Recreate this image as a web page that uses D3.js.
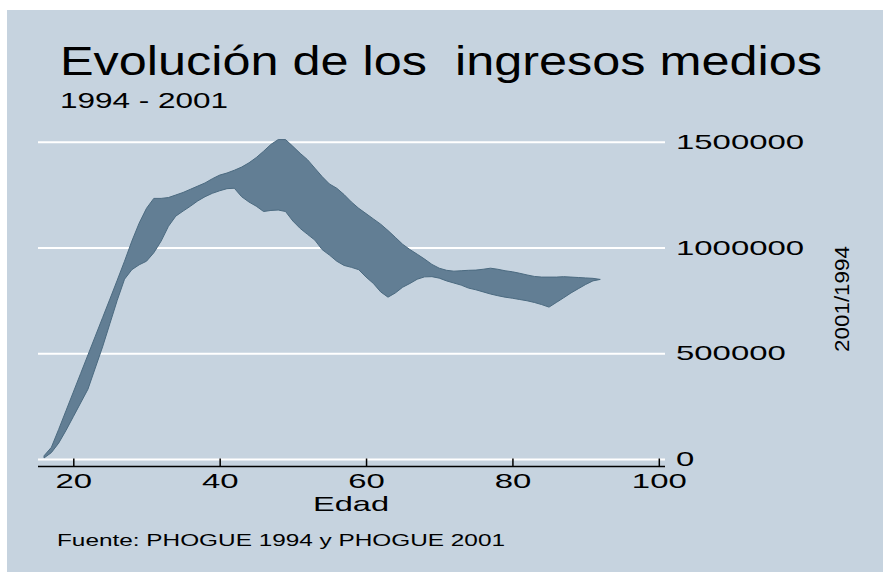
<!DOCTYPE html>
<html>
<head>
<meta charset="utf-8">
<script src="https://cdn.jsdelivr.net/npm/d3@7"></script>
<style>
  body { margin: 0; background: #fff; }
  text { font-family: "Liberation Sans", Arial, sans-serif; fill: #000; }
</style>
</head>
<body>
<div id="chart"></div>
<script>
// edad (age) and the two mean-income curves that bound the band
const ages = [16,17,18,19,20,21,22,23,24,25,26,27,28,29,30,31,32,33,34,35,36,37,38,39,40,
  41,42,43,44,45,46,47,48,49,50,51,52,53,54,55,56,57,58,59,60,61,62,63,64,65,66,67,68,69,70,
  71,72,73,74,75,76,77,78,79,80,81,82,83,84,85,86,87,88,89,90,91,92];
const upper = [15,55,140,228,316,404,492,580,668,756,845,935,1030,1115,1185,1232,1232,1236,1248,1260,1275,
  1290,1305,1325,1342,1352,1365,1380,1400,1425,1455,1487,1510,1510,1478,1445,1415,1375,1335,1300,1280,
  1250,1215,1185,1160,1135,1110,1080,1048,1015,990,968,945,920,902,892,888,890,892,893,897,
  902,897,890,885,878,870,863,860,860,860,862,860,858,856,854,849].map(v => v * 1000);
const lower = [5,30,75,135,200,265,330,430,530,640,750,850,895,918,935,975,1030,1100,1148,1172,1195,
  1220,1240,1256,1268,1278,1280,1240,1215,1195,1170,1175,1177,1170,1125,1090,1062,1035,990,964,935,
  915,906,895,860,830,790,765,785,812,830,850,861,862,855,842,832,822,808,800,790,
  780,772,765,760,754,748,740,730,718,740,762,785,805,825,842,849].map(v => v * 1000);
const xTicks = [20, 40, 60, 80, 100];
const yTicks = [0, 500000, 1000000, 1500000];

const w = 883, h = 574;
const svg = d3.select('#chart').append('svg')
  .attr('width', w).attr('height', h);

svg.append('rect')
  .attr('x', 7).attr('y', 10).attr('width', 876).attr('height', 562)
  .attr('fill', '#c6d3df');

const x = d3.scaleLinear().domain([20, 100]).range([73.3, 658.8]);
const y = d3.scaleLinear().domain([0, 1500000]).range([459, 141.7]);

// gridlines + right labels
const yAxis = svg.append('g')
  .attr('transform', 'translate(665,0)')
  .call(d3.axisRight(y).tickValues(yTicks).tickSizeInner(-627).tickSizeOuter(0).tickPadding(11)
    .tickFormat(d3.format('d')));
yAxis.select('.domain').remove();
yAxis.selectAll('line').attr('stroke', '#fff').attr('stroke-width', 2);
yAxis.selectAll('text')
  .attr('font-size', 21)
  .attr('textLength', d => String(d).length * 18.3)
  .attr('lengthAdjust', 'spacingAndGlyphs');

const data = ages.map((a, i) => ({a, lo: lower[i], hi: upper[i]}));
svg.append('path')
  .datum(data)
  .attr('fill', '#627e94')
  .attr('stroke', '#4b6a80')
  .attr('stroke-width', 1)
  .attr('d', d3.area().x(d => x(d.a)).y0(d => y(d.lo)).y1(d => y(d.hi)));

// x axis
const xAxis = svg.append('g')
  .attr('transform', 'translate(0,466.5)')
  .call(d3.axisBottom(x).tickValues(xTicks).tickSizeInner(-8).tickSizeOuter(0).tickPadding(7));
xAxis.select('.domain').remove();
xAxis.append('line').attr('x1', 38).attr('x2', 665).attr('stroke', '#000').attr('stroke-width', 1.5);
xAxis.selectAll('.tick line').attr('stroke', '#000').attr('stroke-width', 1.5);
xAxis.selectAll('text')
  .attr('font-size', 21)
  .attr('textLength', d => String(d).length * 18.3)
  .attr('lengthAdjust', 'spacingAndGlyphs');

svg.append('text')
  .attr('x', 60).attr('y', 75)
  .attr('font-size', 40)
  .attr('textLength', 762).attr('lengthAdjust', 'spacingAndGlyphs')
  .style('white-space', 'pre')
  .text('Evolución de los  ingresos medios');

svg.append('text')
  .attr('x', 60).attr('y', 108)
  .attr('font-size', 22)
  .attr('textLength', 168).attr('lengthAdjust', 'spacingAndGlyphs')
  .text('1994 - 2001');

svg.append('text')
  .attr('x', 351).attr('y', 511)
  .attr('text-anchor', 'middle')
  .attr('font-size', 21)
  .attr('textLength', 76).attr('lengthAdjust', 'spacingAndGlyphs')
  .text('Edad');

svg.append('text')
  .attr('transform', 'translate(849,299) rotate(-90)')
  .attr('text-anchor', 'middle')
  .attr('font-size', 21)
  .attr('textLength', 106).attr('lengthAdjust', 'spacingAndGlyphs')
  .text('2001/1994');

svg.append('text')
  .attr('x', 57).attr('y', 546)
  .attr('font-size', 17)
  .attr('textLength', 448).attr('lengthAdjust', 'spacingAndGlyphs')
  .text('Fuente: PHOGUE 1994 y PHOGUE 2001');
</script>
</body>
</html>
